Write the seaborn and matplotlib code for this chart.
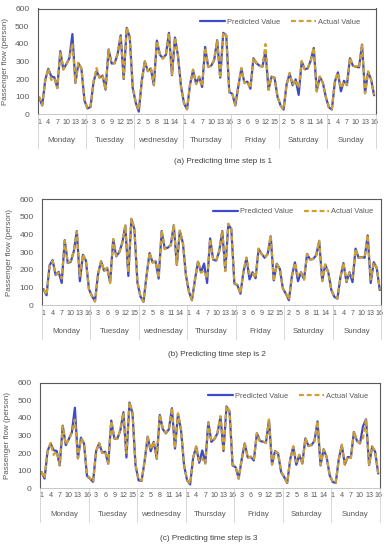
import numpy as np
import pandas as pd
import matplotlib
matplotlib.use("Agg")
import matplotlib.pyplot as plt
import matplotlib.transforms as mtransforms
import seaborn as sns

# ---------------- data ----------------
days = ["Monday", "Tuesday", "wednesday", "Thursday", "Friday", "Saturday", "Sunday"]
slots_per_day = 16
y_ticks = [0, 100, 200, 300, 400, 500, 600]
captions = ["(a) Predicting time step is 1",
            "(b) Predicting time step is 2",
            "(c) Predicting time step is 3"]

actual_a = [100, 52, 190, 260, 195, 205, 148, 355, 255, 283, 315, 405, 180, 292, 260, 80,
            35, 40, 185, 262, 205, 222, 138, 365, 290, 288, 345, 446, 205, 492, 440, 155,
            70, 25, 187, 302, 244, 263, 167, 415, 340, 315, 340, 460, 225, 437, 335, 160,
            65, 30, 167, 254, 170, 215, 158, 379, 273, 273, 311, 417, 205, 465, 446, 129,
            119, 52, 158, 263, 177, 187, 148, 321, 292, 273, 273, 398, 138, 215, 205, 100,
            52, 29, 167, 235, 167, 196, 148, 302, 254, 263, 302, 379, 129, 215, 177, 100,
            42, 29, 187, 235, 148, 187, 167, 321, 273, 273, 263, 398, 119, 244, 196, 110]
pred_a = [95, 50, 195, 258, 215, 210, 150, 358, 255, 285, 318, 455, 178, 290, 258, 78,
          33, 42, 182, 245, 210, 218, 140, 368, 288, 290, 342, 448, 200, 490, 438, 150,
          65, 15, 190, 300, 245, 260, 165, 418, 338, 318, 338, 462, 222, 435, 332, 158,
          62, 28, 170, 250, 175, 212, 155, 382, 270, 275, 308, 420, 208, 462, 448, 126,
          116, 50, 160, 260, 180, 185, 145, 318, 290, 276, 270, 360, 140, 212, 208, 98,
          50, 27, 170, 232, 165, 198, 110, 300, 256, 260, 305, 376, 132, 212, 180, 98,
          40, 27, 185, 238, 130, 190, 165, 318, 275, 270, 266, 395, 120, 240, 198, 108]

actual_b = [87, 58, 221, 250, 173, 183, 150, 365, 240, 250, 308, 417, 165, 288, 250, 87,
            48, 19, 173, 250, 192, 212, 125, 375, 279, 298, 356, 452, 185, 490, 433, 130,
            50, 20, 163, 298, 240, 250, 154, 423, 317, 327, 337, 456, 231, 423, 356, 173,
            77, 29, 140, 250, 183, 195, 150, 375, 260, 250, 308, 423, 192, 462, 433, 125,
            115, 67, 192, 270, 175, 183, 154, 321, 288, 270, 288, 394, 135, 231, 202, 96,
            67, 29, 163, 240, 165, 183, 144, 288, 260, 260, 279, 365, 135, 231, 183, 87,
            48, 38, 154, 240, 135, 183, 155, 317, 270, 270, 270, 398, 145, 240, 212, 87]
pred_b = [90, 55, 225, 255, 170, 188, 125, 368, 238, 245, 305, 420, 135, 285, 252, 90,
          50, 22, 176, 248, 195, 210, 128, 372, 276, 300, 352, 450, 165, 488, 430, 128,
          48, 18, 166, 295, 242, 247, 150, 420, 320, 325, 340, 452, 228, 420, 352, 170,
          75, 27, 145, 246, 186, 235, 125, 378, 257, 252, 305, 420, 195, 458, 430, 122,
          112, 64, 190, 266, 145, 186, 152, 318, 290, 268, 290, 390, 140, 234, 205, 94,
          64, 27, 166, 242, 135, 186, 146, 290, 258, 262, 282, 362, 138, 228, 186, 85,
          46, 36, 157, 238, 130, 186, 130, 320, 268, 272, 268, 395, 125, 243, 210, 85]

actual_c = [95, 57, 210, 258, 190, 210, 134, 353, 248, 277, 315, 391, 172, 286, 258, 76,
            57, 38, 210, 258, 200, 210, 143, 382, 286, 280, 334, 429, 200, 490, 429, 134,
            48, 44, 153, 296, 219, 267, 172, 420, 334, 315, 334, 458, 229, 426, 334, 134,
            48, 25, 172, 239, 150, 170, 140, 372, 267, 277, 315, 410, 210, 468, 439, 134,
            124, 57, 162, 258, 172, 181, 162, 315, 267, 267, 258, 391, 134, 210, 200, 95,
            67, 32, 162, 239, 150, 191, 139, 286, 239, 248, 267, 382, 134, 219, 181, 76,
            38, 32, 162, 248, 134, 181, 172, 324, 267, 258, 286, 395, 134, 239, 210, 86]
pred_c = [92, 55, 212, 255, 216, 212, 130, 356, 245, 280, 318, 458, 170, 288, 255, 70,
          55, 36, 212, 255, 203, 208, 140, 385, 283, 282, 330, 432, 175, 487, 426, 130,
          45, 42, 156, 293, 210, 264, 168, 417, 336, 312, 336, 455, 226, 423, 330, 130,
          45, 22, 175, 236, 145, 215, 143, 375, 264, 280, 312, 407, 212, 465, 436, 130,
          120, 55, 165, 255, 175, 178, 158, 312, 270, 264, 260, 388, 136, 212, 197, 92,
          64, 30, 165, 236, 134, 188, 142, 284, 242, 245, 270, 380, 130, 222, 178, 74,
          36, 30, 165, 245, 136, 178, 175, 320, 270, 255, 353, 392, 132, 236, 208, 84]

# ---------------- style ----------------
sns.set_style("white")
plt.rcParams['font.family'] = ['Liberation Sans', 'DejaVu Sans']

BLUE = "#3F4BC6"
GOLD = "#CDA030"
TXT = "#595959"

W, H = 388, 550
fig = plt.figure(figsize=(W / 100, H / 100), dpi=100)

panels = [
    dict(box=(37.7, 8.5, 375.6, 114.3), act=actual_a, pred=pred_a,
         cap=(223, 161.7), leg=(360, 22), tick_pad=3.4, day_off=26),
    dict(box=(42.0, 199.3, 381.3, 305.0), act=actual_b, pred=pred_b,
         cap=(217, 354.0), leg=(373, 211.7), tick_pad=3.4, day_off=26.7),
    dict(box=(40.0, 382.7, 379.7, 488.3), act=actual_c, pred=pred_c,
         cap=(209, 539.0), leg=(368, 396.0), tick_pad=2.4, day_off=25.7),
]

n = len(days) * slots_per_day
t = np.arange(n)
major_pos = np.arange(0, n, 3)
major_lab = [str(i % slots_per_day + 1) for i in major_pos]

for k, p in enumerate(panels):
    l, tp, r, b = p["box"]
    axw, axh = r - l, b - tp
    ax = fig.add_axes([l / W, 1 - b / H, axw / W, axh / H])
    df = pd.DataFrame({"t": t, "Predicted Value": p["pred"], "Actual Value": p["act"]})
    sns.lineplot(data=df, x="t", y="Predicted Value", ax=ax, color=BLUE,
                 linewidth=1.6, label="Predicted Value")
    sns.lineplot(data=df, x="t", y="Actual Value", ax=ax, color=GOLD,
                 linewidth=1.6, linestyle="--", label="Actual Value")
    ax.lines[-1].set_dashes([2.2, 1.3])

    ax.set_xlim(-0.5, n - 0.5)
    ax.set_ylim(0, 600)
    ax.set_yticks(y_ticks)
    ax.set_yticklabels([str(v) for v in y_ticks], fontsize=6, color=TXT)
    ax.tick_params(axis="y", length=0, pad=6)

    ax.set_xticks(major_pos)
    ax.set_xticklabels(major_lab, fontsize=5.1, color=TXT)
    ax.set_xticks(np.arange(-0.5, n, 1), minor=True)
    ax.tick_params(axis="x", which="major", length=0, pad=p["tick_pad"])
    ax.tick_params(axis="x", which="minor", length=3.5, width=0.5, color="#D0D0D0")
    ax.set_xlabel("")

    ax.set_ylabel("Passenger flow (person)", fontsize=5.8, color=TXT)
    ax.yaxis.set_label_coords(-29 / axw, 0.5)

    for side in ["top", "left", "right"]:
        ax.spines[side].set_color("#595959")
        ax.spines[side].set_linewidth(0.8)
    ax.spines["bottom"].set_color("#BFBFBF")
    ax.spines["bottom"].set_linewidth(0.6)

    trans = mtransforms.blended_transform_factory(ax.transData, ax.transAxes)
    for d in range(len(days) + 1):
        xs = d * slots_per_day - 0.5
        ax.plot([xs, xs], [0, -34 / axh], transform=trans, color="#D0D0D0",
                lw=0.6, clip_on=False)
    for d, name in enumerate(days):
        ax.text(d * slots_per_day + (slots_per_day - 1) / 2, -p["day_off"] / axh, name,
                transform=trans, ha="center", va="center", fontsize=5.7, color=TXT)

    lx, ly = p["leg"]
    ax.legend(loc="center right", bbox_to_anchor=((lx - l) / axw, 1 - (ly - tp) / axh),
              ncol=2, frameon=False, fontsize=5.4, handlelength=3.3,
              columnspacing=1.4, handletextpad=0.3, borderpad=0, borderaxespad=0,
              labelcolor=TXT)

    cx, cy = p["cap"]
    fig.text(cx / W, 1 - cy / H, captions[k], ha="center", va="center",
             fontsize=5.9, color="#404040")

fig.savefig("out.png", dpi=100)
